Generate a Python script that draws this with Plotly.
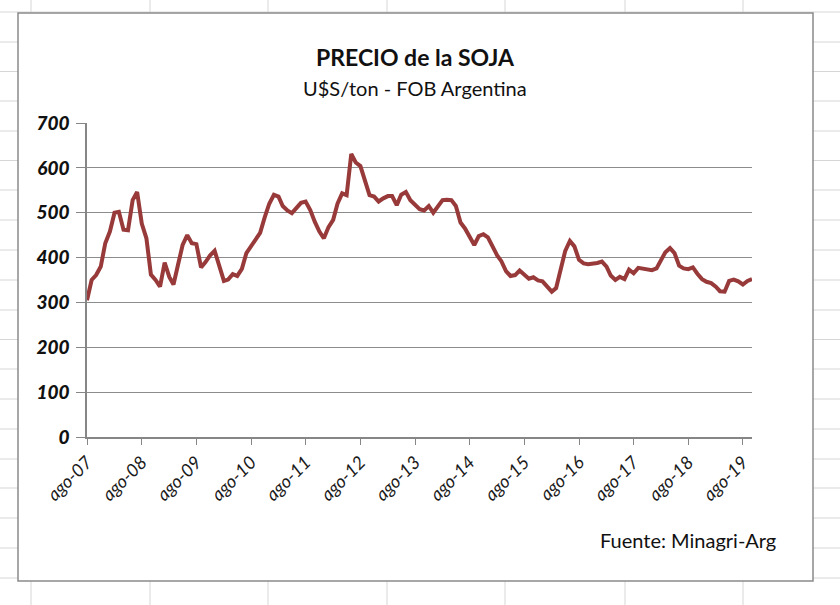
import plotly.graph_objects as go
import pandas as pd

# ---- data ----
months = pd.date_range("2007-08-01", periods=147, freq="MS")
precio = [
    305, 350, 361, 380, 432, 458, 500, 502, 462, 461,
    528, 546, 476, 443, 362, 350, 335, 389, 357, 340,
    385, 428, 450, 432, 430, 378, 390, 405, 415, 380,
    348, 351, 363, 359, 375, 410, 425, 440, 455, 490,
    520, 540, 536, 515, 505, 499, 512, 522, 525, 506,
    480, 458, 443, 468, 484, 520, 543, 539, 631, 612,
    604, 570, 539, 536, 525, 532, 537, 537, 517, 540,
    546, 528, 518, 508, 505, 515, 500, 515, 528, 529,
    528, 515, 478, 465, 445, 428, 448, 452, 445, 425,
    405, 392, 370, 359, 361, 371, 361, 353, 356, 349,
    347, 335, 324, 332, 370, 415, 437, 425, 395, 387,
    385, 386, 388, 391, 380, 360, 350, 357, 352, 373,
    365, 377, 375, 374, 372, 376, 395, 412, 421, 410,
    382, 376, 374, 378, 364, 352, 346, 343, 335, 325,
    324, 348, 351, 347, 340, 348, 352,
]
tick_dates = ["2007-08-01", "2008-08-01", "2009-08-01", "2010-08-01", "2011-08-01",
              "2012-08-01", "2013-08-01", "2014-08-01", "2015-08-01", "2016-08-01",
              "2017-08-01", "2018-08-01", "2019-08-01"]
tick_labels = ["ago-07", "ago-08", "ago-09", "ago-10", "ago-11", "ago-12", "ago-13",
               "ago-14", "ago-15", "ago-16", "ago-17", "ago-18", "ago-19"]
y_ticks = [0, 100, 200, 300, 400, 500, 600, 700]

titulo = "<b>PRECIO de la SOJA</b>"
subtitulo = "U$S/ton - FOB Argentina"
fuente = "Fuente: Minagri-Arg"

# ---- layout geometry (pixels) ----
W, H = 840, 605
PL, PR, PT, PB = 87, 752, 123, 437


def xp(px):
    return (px - PL) / (PR - PL)


def yp(py):
    return (PB - py) / (PB - PT)


FONT = "Lato"
shapes = []
# spreadsheet grid behind the chart
sheet_cols = [31, 150, 268, 387, 505, 625, 743]
sheet_rows = [12, 42, 71.5, 101, 131, 160.5, 190, 220, 250, 280, 310, 339.5,
              369, 399, 429, 459, 488, 518, 548, 578]
for cx in sheet_cols:
    shapes.append(dict(type="line", xref="paper", yref="paper", layer="below",
                       x0=xp(cx), x1=xp(cx), y0=yp(0), y1=yp(H),
                       line=dict(color="#d6d6d6", width=1)))
for ry in sheet_rows:
    shapes.append(dict(type="line", xref="paper", yref="paper", layer="below",
                       x0=xp(0), x1=xp(W), y0=yp(ry), y1=yp(ry),
                       line=dict(color="#d6d6d6", width=1)))
# chart box
shapes.append(dict(type="rect", xref="paper", yref="paper", layer="below",
                   x0=xp(18), x1=xp(813), y0=yp(581), y1=yp(13),
                   fillcolor="white", line=dict(color="#8a8a8a", width=1.5)))

fig = go.Figure()
fig.add_trace(go.Scatter(x=months, y=precio, mode="lines",
                         line=dict(color="#983A3A", width=4),
                         hoverinfo="x+y", showlegend=False))

fig.update_layout(
    width=W, height=H,
    margin=dict(l=PL, r=W - PR, t=PT, b=H - PB, pad=0),
    paper_bgcolor="white",
    plot_bgcolor="rgba(0,0,0,0)",
    shapes=shapes,
    showlegend=False,
    font=dict(family=FONT, color="#1a1a1a"),
    annotations=[
        dict(text=titulo, xref="paper", yref="paper", x=xp(415), y=yp(57),
             xanchor="center", yanchor="middle", showarrow=False,
             font=dict(family=FONT, size=23, color="#111111")),
        dict(text=subtitulo, xref="paper", yref="paper", x=xp(415), y=yp(88),
             xanchor="center", yanchor="middle", showarrow=False,
             font=dict(family=FONT, size=20, color="#111111")),
        dict(text=fuente, xref="paper", yref="paper", x=xp(778), y=yp(540),
             xanchor="right", yanchor="middle", showarrow=False,
             font=dict(family=FONT, size=20, color="#111111")),
    ],
)

fig.update_xaxes(
    type="date",
    range=["2007-08-01", "2019-10-01"],
    tickvals=tick_dates, ticktext=tick_labels,
    tickangle=-45,
    ticks="outside", ticklen=6, tickcolor="#868686", tickwidth=1.3,
    tickfont=dict(family=FONT, size=18, color="#1a1a1a", style="italic"),
    showgrid=False, zeroline=False,
    showline=True, linecolor="#868686", linewidth=1.5,
)
fig.update_yaxes(
    range=[0, 700],
    tickvals=y_ticks,
    ticks="outside", ticklen=9, tickcolor="#868686", tickwidth=1.3,
    ticklabelstandoff=3,
    tickfont=dict(family=FONT, size=19, color="#111111", weight=900, style="italic"),
    showgrid=True, gridcolor="#8c8c8c", gridwidth=1.4,
    zeroline=False,
    showline=True, linecolor="#868686", linewidth=1.5,
)

fig.write_html("out.html", config={"displayModeBar": False},
               post_script="document.body.style.margin='0';")
